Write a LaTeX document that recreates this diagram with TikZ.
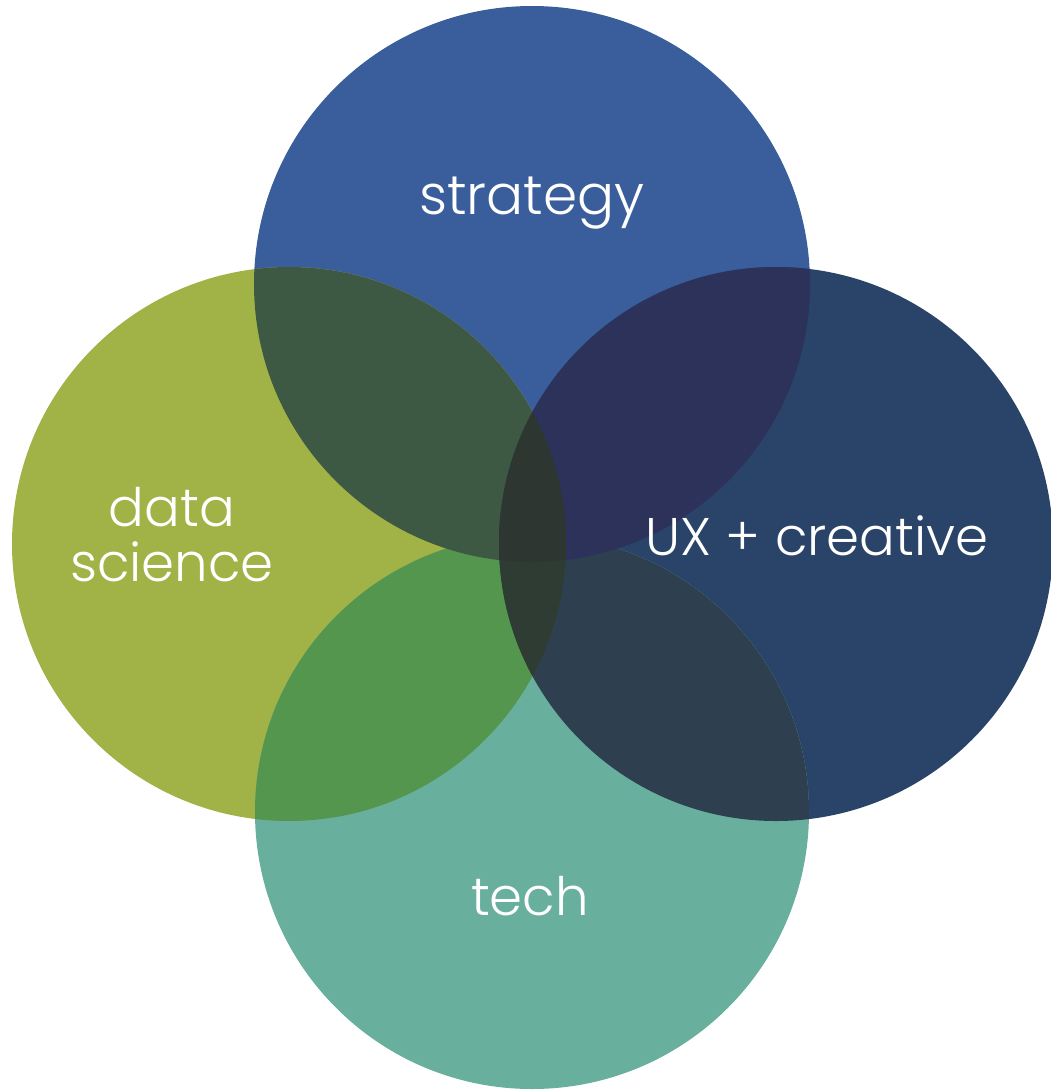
\documentclass[tikz,border=0pt]{standalone}
\usepackage{fontspec}
\setmainfont{Poppins Light}
\definecolor{cS}{HTML}{3A5E9B}
\definecolor{cD}{HTML}{A1B347}
\definecolor{cU}{HTML}{2A4369}
\definecolor{cT}{HTML}{69AF9D}
\definecolor{cSD}{HTML}{3E5943}
\definecolor{cSU}{HTML}{2C3259}
\definecolor{cDT}{HTML}{55964E}
\definecolor{cUT}{HTML}{2E404F}
\definecolor{cDUtop}{HTML}{2E3631}
\definecolor{cDUbot}{HTML}{2F3C34}
\begin{document}
\begin{tikzpicture}[x=1pt,y=-1pt,
  lbl/.style={text=white,font=\fontsize{53}{60}\selectfont,anchor=base,inner sep=0pt}]
\useasboundingbox (0,0) rectangle (1051,1090);
\fill[white] (0,0) rectangle (1051,1090);
\def\cS{(532,284) circle[radius=278]}
\def\cD{(289,544) circle[radius=277]}
\def\cU{(776,544) circle[radius=277]}
\def\cT{(532,812) circle[radius=277]}
\fill[cS] \cS;
\fill[cD] \cD;
\fill[cU] \cU;
\fill[cT] \cT;
\begin{scope}\clip \cD; \fill[cDT] \cT; \end{scope}
\begin{scope}\clip \cU; \fill[cUT] \cT; \end{scope}
\begin{scope}\clip \cS; \fill[cSD] \cD; \end{scope}
\begin{scope}\clip \cS; \fill[cSU] \cU; \end{scope}
\begin{scope}\clip \cD; \fill[cDUbot] \cU; \end{scope}
\begin{scope}\clip \cD; \clip \cU; \fill[cDUtop] \cS; \end{scope}
\node[lbl,font=\fontsize{55}{60}\selectfont] (strategy) at (532,214) {strategy};
\node[lbl] (data) at (172,526) {data};
\node[lbl] (science) at (172,581) {science};
\node[lbl] (ux) at (817,555) {UX + creative};
\node[lbl] (tech) at (530,915) {tech};
\end{tikzpicture}
\end{document}
